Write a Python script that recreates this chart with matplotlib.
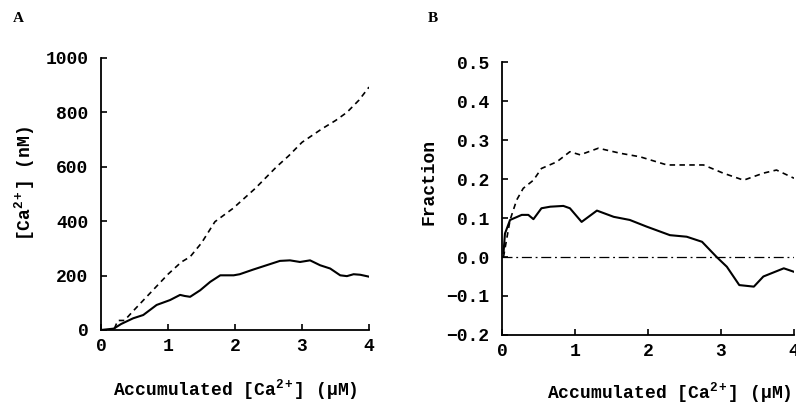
import matplotlib
matplotlib.use("Agg")
import matplotlib.pyplot as plt

# ---------------------------------------------------------
# Data
# ---------------------------------------------------------
# Panel A: free [Ca2+] (nM) vs accumulated [Ca2+] (uM)
a_dash_x = [0.2, 0.25, 0.35, 0.5, 0.75, 1.0, 1.2, 1.33, 1.5, 1.7, 1.97, 2.3, 2.62, 2.8, 3.0, 3.3, 3.5, 3.67, 3.85, 4.0]
a_dash_y = [5, 35, 35, 75, 140, 205, 250, 269, 320, 398, 447, 520, 600, 640, 690, 740, 770, 800, 845, 893]
a_solid_x = [0.0, 0.19, 0.3, 0.48, 0.63, 0.83, 1.03, 1.18, 1.25, 1.33, 1.48, 1.63, 1.78, 1.98, 2.07, 2.27, 2.47, 2.67,
             2.82, 2.97, 3.12, 3.27, 3.42, 3.57, 3.67, 3.77, 3.87, 4.0]
a_solid_y = [0, 5, 22, 43, 55, 92, 110, 129, 125, 122, 146, 177, 201, 201, 205, 222, 238, 254,
             256, 250, 256, 238, 226, 201, 198, 205, 203, 196]

# Panel B: fraction vs accumulated [Ca2+] (uM)
b_dash_x = [0.02, 0.11, 0.2, 0.29, 0.43, 0.54, 0.75, 0.93, 1.07, 1.32, 1.62, 1.89, 2.26, 2.76, 3.03, 3.31, 3.58, 3.76, 4.0]
b_dash_y = [0.0, 0.095, 0.146, 0.176, 0.197, 0.227, 0.244, 0.27, 0.262, 0.279, 0.266, 0.257, 0.236, 0.236, 0.215, 0.197,
            0.215, 0.223, 0.202]
b_solid_x = [0.02, 0.04, 0.11, 0.27, 0.36, 0.43, 0.54, 0.66, 0.84, 0.93, 1.09, 1.30, 1.53, 1.75, 1.98, 2.30, 2.53, 2.74,
             2.94, 3.08, 3.25, 3.45, 3.58, 3.86, 4.0]
b_solid_y = [0.01, 0.06, 0.095, 0.108, 0.108, 0.097, 0.125, 0.129, 0.131, 0.125, 0.09, 0.119, 0.103, 0.095, 0.078, 0.056,
             0.052, 0.039, 0.0, -0.025, -0.072, -0.076, -0.05, -0.029, -0.038]
b_zero_x = [0, 4]
b_zero_y = [0, 0]

a_xticks = [0, 1, 2, 3, 4]
a_yticks = [0, 200, 400, 600, 800, 1000]
b_xticks = [0, 1, 2, 3, 4]
b_yticks = [-0.2, -0.1, 0.0, 0.1, 0.2, 0.3, 0.4, 0.5]
b_yticklabels = ["\u22120.2", "\u22120.1", "0.0", "0.1", "0.2", "0.3", "0.4", "0.5"]

# ---------------------------------------------------------
# Style
# ---------------------------------------------------------
plt.rcParams['font.family'] = ['Liberation Mono', 'DejaVu Sans Mono']
plt.rcParams['font.weight'] = 'bold'
plt.rcParams['axes.labelweight'] = 'bold'
plt.rcParams['font.size'] = 13
plt.rcParams['mathtext.fontset'] = 'custom'
plt.rcParams['mathtext.rm'] = 'Liberation Mono:bold'
plt.rcParams['mathtext.it'] = 'Liberation Mono:bold'
plt.rcParams['mathtext.bf'] = 'Liberation Mono:bold'

xlabel = r"Accumulated [Ca$^{2+}$] ($\mu$M)"

fig = plt.figure(figsize=(7.96, 4.04), dpi=100)
axA = fig.add_axes([0.1269, 0.1832, 0.3367, 0.6733])
axB = fig.add_axes([0.6307, 0.1708, 0.3668, 0.6757])

for ax in (axA, axB):
    ax.spines['top'].set_visible(False)
    ax.spines['right'].set_visible(False)
    ax.spines['left'].set_linewidth(1.3)
    ax.spines['bottom'].set_linewidth(1.3)
    ax.tick_params(direction='in', length=4.5, width=1.2)
    ax.tick_params(axis='y', pad=9)
    ax.tick_params(axis='x', pad=6)

# Panel A
axA.plot(a_dash_x, a_dash_y, color='black', lw=1.2, linestyle=(0, (3.3, 2.6)))
axA.plot(a_solid_x, a_solid_y, color='black', lw=1.5)
axA.set_xlim(0, 4)
axA.set_ylim(0, 1000)
axA.set_xticks(a_xticks)
axA.set_yticks(a_yticks)
axA.set_xlabel(xlabel, va='center')
axA.xaxis.set_label_coords(0.5, -0.22)
axA.set_ylabel(r"[Ca$^{2+}$] (nM)", va='center')
axA.yaxis.set_label_coords(-0.284, 0.54)

# Panel B
axB.plot(b_dash_x, b_dash_y, color='black', lw=1.2, linestyle=(0, (3.3, 2.6)))
axB.plot(b_solid_x, b_solid_y, color='black', lw=1.5)
axB.plot(b_zero_x, b_zero_y, color='black', lw=0.9, linestyle=(0, (8, 3, 1.5, 3)))
axB.set_xlim(0, 4)
axB.set_ylim(-0.2, 0.5)
axB.set_xticks(b_xticks)
axB.set_yticks(b_yticks)
axB.set_yticklabels(b_yticklabels)
axB.set_xlabel(xlabel, va='center')
axB.xaxis.set_label_coords(0.572, -0.212)
axB.set_ylabel("Fraction", va='center')
axB.yaxis.set_label_coords(-0.25, 0.56)

# Panel letters
fig.text(13 / 796, 1 - 18 / 404, "A", fontsize=11, family='Liberation Serif', weight='bold', va='center')
fig.text(428 / 796, 1 - 18 / 404, "B", fontsize=11, family='Liberation Serif', weight='bold', va='center')

fig.savefig("out.png", dpi=100)
